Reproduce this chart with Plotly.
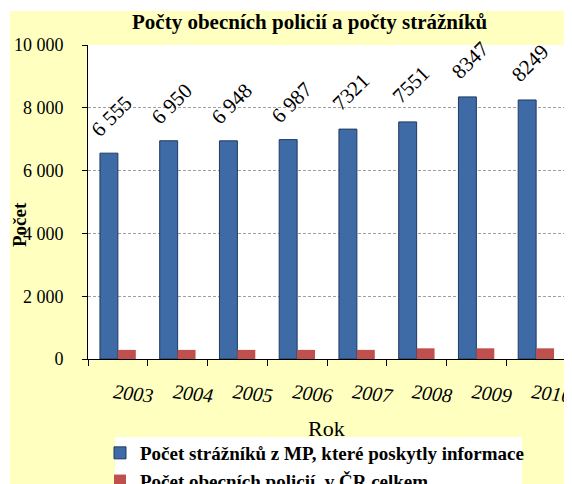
import plotly.graph_objects as go

years = ["2003", "2004", "2005", "2006", "2007", "2008", "2009", "2010"]
strazniki = [6555, 6950, 6948, 6987, 7321, 7551, 8347, 8249]
strazniki_labels = ["6 555", "6 950", "6 948", "6 987", "7321", "7551", "8347", "8249"]
policie = [290, 290, 290, 290, 290, 340, 340, 340]

series_names = ["Počet strážníků z MP, které poskytly informace",
                "Počet obecních policií  v ČR celkem"]
title_text = "Počty obecních policií a počty strážníků"
y_tick_vals = [0, 2000, 4000, 6000, 8000, 10000]

# the page body adds an 8px offset; the figure fills the rest of the window
OFF = 8
W, H = 572 - OFF, 484 - OFF
L, R, T, B = 88 - OFF, 6, 45 - OFF, 125
PW = W - L - R
PH = H - T - B


def px_x(p):
    """screen x pixel -> paper coordinate"""
    return (p - OFF - L) / PW


def px_y(p):
    """screen y pixel -> paper coordinate"""
    return (H - B - (p - OFF)) / PH


SERIF = "Liberation Serif"

fig = go.Figure()
fig.add_trace(go.Bar(
    x=years, y=strazniki, name=series_names[0],
    marker=dict(color="#3E6BA6", line=dict(color="#1F3A60", width=1)),
))
fig.add_trace(go.Bar(
    x=years, y=policie, name=series_names[1],
    marker=dict(color="#C0504D", line=dict(width=0)),
))

annotations = []
for i, (v, lab) in enumerate(zip(strazniki, strazniki_labels)):
    annotations.append(dict(
        x=i, y=v, xref="x", yref="y", text=lab, showarrow=False,
        textangle=-45, xanchor="center", yanchor="middle",
        xshift=-6, yshift=37,
        font=dict(family=SERIF, size=21, color="black"),
    ))

annotations.append(dict(
    x=px_x(310), y=px_y(22), xref="paper", yref="paper",
    text="<b>" + title_text + "</b>", showarrow=False,
    xanchor="center", yanchor="middle",
    font=dict(family=SERIF, size=21, color="black"),
))
annotations.append(dict(
    x=px_x(19), y=px_y(225), xref="paper", yref="paper",
    text="<b>Počet</b>", showarrow=False, textangle=-90,
    xanchor="center", yanchor="middle",
    font=dict(family=SERIF, size=19, color="black"),
))
annotations.append(dict(
    x=px_x(326), y=px_y(428), xref="paper", yref="paper",
    text="Rok", showarrow=False,
    xanchor="center", yanchor="middle",
    font=dict(family=SERIF, size=22, color="black"),
))

shapes = [
    dict(type="rect", xref="paper", yref="paper", layer="below",
         x0=px_x(0), x1=px_x(580), y0=px_y(11), y1=px_y(0),
         fillcolor="white", line=dict(width=0)),
    dict(type="rect", xref="paper", yref="paper", layer="below",
         x0=px_x(0), x1=px_x(10), y0=px_y(490), y1=px_y(0),
         fillcolor="white", line=dict(width=0)),
    dict(type="rect", xref="paper", yref="paper", layer="below",
         x0=px_x(115), x1=px_x(522), y0=px_y(490), y1=px_y(437),
         fillcolor="white", line=dict(width=0)),
]

fig.update_layout(
    width=W, height=H,
    margin=dict(l=L, r=R, t=T, b=B, pad=0, autoexpand=False),
    paper_bgcolor="#FFFFC0",
    plot_bgcolor="white",
    barmode="group", bargap=0.4, bargroupgap=0,
    separators=". ",
    font=dict(family=SERIF, color="black"),
    showlegend=True,
    legend=dict(
        xref="container", yref="container",
        x=(100 - OFF) / W, y=1 - (434 - OFF) / H, xanchor="left", yanchor="top",
        bgcolor="rgba(0,0,0,0)", borderwidth=0,
        font=dict(family=SERIF, size=19, color="black", weight="bold"),
        itemwidth=30, tracegroupgap=0, maxheight=600,
    ),
    annotations=annotations,
    shapes=shapes,
)
fig.update_xaxes(
    type="category", range=[-0.5, len(years) - 0.5], autorange=False,
    automargin=False,
    showline=True, linecolor="black", linewidth=1,
    ticks="outside", ticklen=6, tickcolor="black", tickson="boundaries",
    tickangle=7, ticklabelstandoff=14, ticklabelshift=-4,
    tickfont=dict(family=SERIF, size=20, color="black", style="italic"),
    showgrid=False, mirror=False,
)
fig.update_yaxes(
    range=[0, 10000], autorange=False, automargin=False,
    tickvals=y_tick_vals, tickformat=",d",
    showline=True, linecolor="black", linewidth=1,
    ticks="outside", ticklen=5, tickcolor="black",
    ticklabelstandoff=15,
    tickfont=dict(family=SERIF, size=18, color="black"),
    showgrid=True, gridcolor="#A0A0A0", gridwidth=1, griddash="3px,2px",
    zeroline=False,
)

fig.write_html("out.html")
